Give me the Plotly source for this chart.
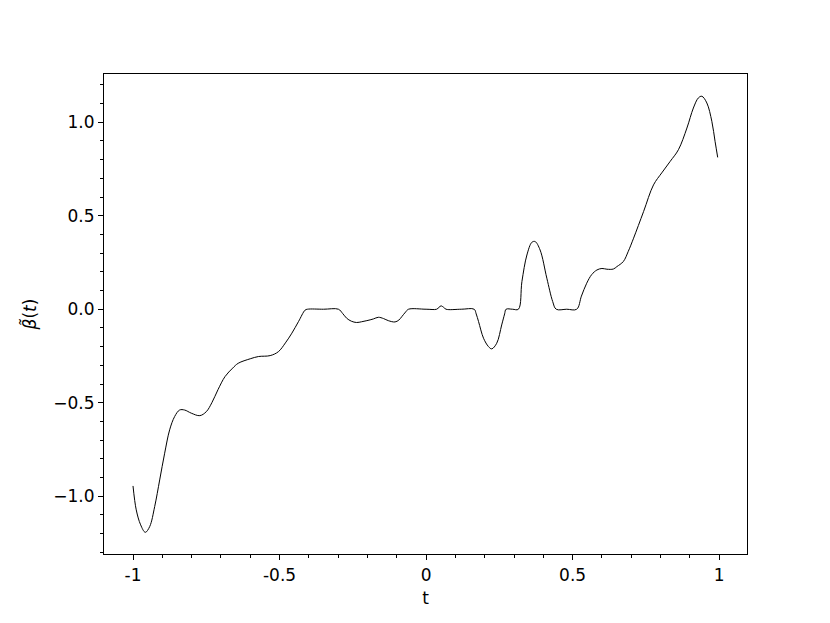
import plotly.graph_objects as go

###############################################################################
# Data

t_vals = [
    -1.000, -0.989, -0.974, -0.958, -0.943, -0.926, -0.909, -0.892, -0.875, -0.858,
    -0.841, -0.824, -0.801, -0.772, -0.750, -0.731, -0.710, -0.686, -0.660, -0.641,
    -0.600, -0.572, -0.532, -0.504, -0.480, -0.458, -0.435, -0.413, -0.405, -0.350,
    -0.299, -0.285, -0.271, -0.255, -0.237, -0.220, -0.202, -0.180, -0.163, -0.145,
    -0.129, -0.106, -0.093, -0.083, -0.070, -0.060, 0.000, 0.036, 0.044, 0.051,
    0.060, 0.068, 0.120, 0.164, 0.171, 0.179, 0.196, 0.213, 0.224, 0.241,
    0.258, 0.268, 0.273, 0.295, 0.315, 0.327, 0.344, 0.361, 0.372, 0.389,
    0.412, 0.432, 0.444, 0.480, 0.514, 0.530, 0.548, 0.565, 0.583, 0.600,
    0.617, 0.639, 0.651, 0.673, 0.690, 0.708, 0.742, 0.776, 0.804, 0.833,
    0.861, 0.890, 0.912, 0.929, 0.941, 0.958, 0.975, 0.986, 0.995,
]

beta_vals = [
    -0.945, -1.073, -1.153, -1.193, -1.162, -1.055, -0.913, -0.770, -0.645, -0.574,
    -0.539, -0.539, -0.556, -0.569, -0.548, -0.500, -0.430, -0.360, -0.315, -0.289,
    -0.265, -0.253, -0.248, -0.227, -0.180, -0.128, -0.065, -0.005, 0.000, 0.000,
    0.000, -0.022, -0.048, -0.064, -0.071, -0.067, -0.061, -0.052, -0.043, -0.050,
    -0.061, -0.068, -0.058, -0.040, -0.015, 0.000, 0.000, 0.000, 0.010, 0.018,
    0.010, 0.000, 0.000, 0.000, -0.025, -0.066, -0.155, -0.200, -0.212, -0.182,
    -0.084, -0.025, 0.000, 0.000, 0.000, 0.148, 0.290, 0.358, 0.362, 0.317,
    0.166, 0.041, 0.000, 0.000, 0.000, 0.070, 0.139, 0.185, 0.210, 0.218,
    0.214, 0.215, 0.228, 0.255, 0.310, 0.380, 0.522, 0.665, 0.729, 0.791,
    0.853, 0.969, 1.076, 1.130, 1.139, 1.103, 1.005, 0.898, 0.812,
]

x_tick_vals = [-1, -0.5, 0, 0.5, 1]
x_tick_text = ["-1", "-0.5", "0", "0.5", "1"]

y_tick_vals = [-1.0, -0.5, 0.0, 0.5, 1.0]
y_tick_text = ["\u22121.0", "\u22120.5", "0.0", "0.5", "1.0"]

###############################################################################
# Figure

font = dict(family="DejaVu Sans", size=17, color="black")

fig = go.Figure(
    data=[
        go.Scatter(
            x=t_vals,
            y=beta_vals,
            mode="lines",
            line=dict(color="black", width=1, shape="spline", smoothing=1.0),
            showlegend=False,
        )
    ]
)

axis_common = dict(
    showgrid=False,
    zeroline=False,
    showline=True,
    linecolor="black",
    linewidth=1.2,
    mirror=True,
    ticks="outside",
    ticklen=5,
    tickwidth=1,
    tickcolor="black",
    tickfont=font,
    automargin=False,
    minor=dict(ticks="outside", ticklen=3, tickwidth=1, tickcolor="black",
               dtick=0.1, tick0=0, showgrid=False),
)

fig.update_xaxes(
    range=[-1.099, 1.095],
    tickmode="array",
    tickvals=x_tick_vals,
    ticktext=x_tick_text,
    title=dict(text="t", font=font, standoff=8),
    **axis_common,
)

fig.update_yaxes(
    range=[-1.309, 1.258],
    tickmode="array",
    tickvals=y_tick_vals,
    ticktext=y_tick_text,
    title=dict(text="<i>\u03b2\u0303</i>(<i>t</i>)", font=font, standoff=12),
    **axis_common,
)

# page body keeps its default 8px margin, so the figure is 8px smaller
fig.update_layout(
    width=822,
    height=615,
    autosize=False,
    margin=dict(l=96, r=83, t=66, b=69),
    plot_bgcolor="white",
    paper_bgcolor="white",
    font=font,
)

fig.write_html("out.html")
